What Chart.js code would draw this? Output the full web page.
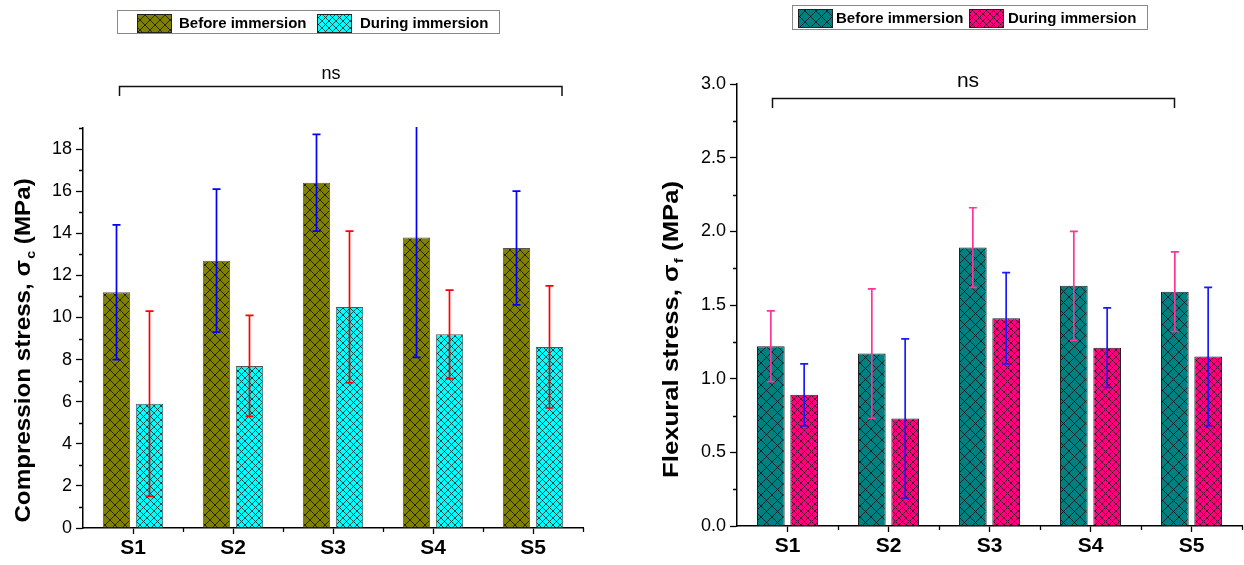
<!DOCTYPE html>
<html>
<head>
<meta charset="utf-8">
<script src="https://cdn.jsdelivr.net/npm/chart.js@4/dist/chart.umd.min.js"></script>
<style>
body{margin:0;background:#fff;}
#left{position:absolute;left:0;top:0;width:620px;height:565px;}
#right{position:absolute;left:640px;top:0;width:604px;height:565px;}
</style>
</head>
<body>
<div id="left"><canvas id="c1"></canvas></div>
<div id="right"><canvas id="c2"></canvas></div>
<script>
// data
var samples = ['S1','S2','S3','S4','S5'];
var legendLabels = ['Before immersion','During immersion'];

var compBefore   = [11.2, 12.7, 16.4, 13.8, 13.3];
var compBeforeSd = [3.2, 3.4, 2.3, 5.7, 2.7];
var compDuring   = [5.9, 7.7, 10.5, 9.2, 8.6];
var compDuringSd = [4.4, 2.4, 3.6, 2.1, 2.9];

var flexBefore   = [1.22, 1.17, 1.89, 1.63, 1.59];
var flexBeforeSd = [0.24, 0.44, 0.27, 0.37, 0.27];
var flexDuring   = [0.89, 0.73, 1.41, 1.21, 1.15];
var flexDuringSd = [0.21, 0.54, 0.31, 0.27, 0.47];

var FONT = '"Liberation Sans", Arial, sans-serif';

function hatch(ctx, color, size){
    var c = document.createElement('canvas');
    c.width = size; c.height = size;
    var g = c.getContext('2d');
    g.fillStyle = color;
    g.fillRect(0,0,size,size);
    g.strokeStyle = 'rgba(0,0,0,0.7)';
    g.lineWidth = 1;
    g.beginPath();
    g.moveTo(-1,-1); g.lineTo(size+1,size+1);
    g.moveTo(-1,size+1); g.lineTo(size+1,-1);
    g.stroke();
    return ctx.createPattern(c,'repeat');
}

// draws error bars, minor ticks, axis title, legend box and the ns bracket
var deco = {
    id: 'deco',
    afterDatasetsDraw: function(chart, args, o){
        var ctx = chart.ctx, y = chart.scales.y, a = chart.chartArea;
        ctx.save();
        ctx.beginPath();
        ctx.rect(a.left, a.top - 1, a.right - a.left, a.bottom - a.top + 2);
        ctx.clip();
        chart.data.datasets.forEach(function(ds, di){
            var meta = chart.getDatasetMeta(di);
            ctx.strokeStyle = o.errColors[di];
            ctx.lineWidth = 1.7;
            meta.data.forEach(function(bar, i){
                var v = ds.data[i], sd = o.sds[di][i];
                var yt = y.getPixelForValue(v + sd), yb = y.getPixelForValue(v - sd);
                ctx.beginPath();
                ctx.moveTo(bar.x, yt); ctx.lineTo(bar.x, yb);
                ctx.moveTo(bar.x - 4, yt); ctx.lineTo(bar.x + 4, yt);
                ctx.moveTo(bar.x - 4, yb); ctx.lineTo(bar.x + 4, yb);
                ctx.stroke();
            });
        });
        ctx.restore();
    },
    afterDraw: function(chart, args, o){
        var ctx = chart.ctx, y = chart.scales.y, a = chart.chartArea;
        ctx.save();
        ctx.strokeStyle = '#000';
        ctx.lineWidth = 1.3;
        // minor y ticks
        ctx.beginPath();
        for (var v = y.min; v <= y.max + 1e-9; v += o.minorY){
            var r = Math.round(v / o.majorY * 1000) / 1000;
            if (Math.abs(r - Math.round(r)) < 1e-6) continue;
            var py = Math.round(y.getPixelForValue(v)) + 0.5;
            ctx.moveTo(a.left - 4, py); ctx.lineTo(a.left, py);
        }
        // minor x ticks on category boundaries
        var n = chart.data.labels.length;
        for (var k = 1; k <= n; k++){
            var px = Math.round(a.left + (a.right - a.left) * k / n) + 0.5;
            ctx.moveTo(px, a.bottom); ctx.lineTo(px, a.bottom + 4);
        }
        ctx.stroke();

        // y axis title with subscript, stretched along the text
        var t = o.title;
        ctx.translate(t.x, t.y);
        ctx.rotate(-Math.PI / 2);
        ctx.scale(t.stretch, 1);
        ctx.fillStyle = '#000';
        ctx.textBaseline = 'alphabetic';
        var big = 'bold ' + t.size + 'px ' + FONT, small = 'bold ' + Math.round(t.size * 0.6) + 'px ' + FONT;
        ctx.font = big;
        var w1 = ctx.measureText(t.main).width, w3 = ctx.measureText(t.rest).width;
        ctx.font = small;
        var w2 = ctx.measureText(t.sub).width;
        var sx = -(w1 + w2 + w3) / 2;
        ctx.font = big; ctx.textAlign = 'left';
        ctx.fillText(t.main, sx, 0);
        ctx.font = small;
        ctx.fillText(t.sub, sx + w1 + 1, 5);
        ctx.font = big;
        ctx.fillText(t.rest, sx + w1 + w2 + 1, 0);
        ctx.restore();

        // legend
        var L = o.legend;
        ctx.save();
        ctx.fillStyle = '#fff';
        ctx.fillRect(L.x, L.y, L.w, L.h);
        ctx.strokeStyle = '#888';
        ctx.lineWidth = 1;
        ctx.strokeRect(L.x + 0.5, L.y + 0.5, L.w, L.h);
        ctx.font = 'bold ' + L.size + 'px ' + FONT;
        ctx.textBaseline = 'middle';
        ctx.textAlign = 'left';
        chart.data.datasets.forEach(function(ds, di){
            var it = L.items[di];
            ctx.fillStyle = ds.backgroundColor;
            ctx.fillRect(it.sx, L.sy, L.sw, L.sh);
            ctx.strokeStyle = '#222';
            ctx.strokeRect(it.sx + 0.5, L.sy + 0.5, L.sw, L.sh);
            ctx.fillStyle = '#000';
            ctx.fillText(ds.label, it.tx, L.sy + L.sh / 2 + 1);
        });

        // ns bracket
        var b = o.bracket;
        ctx.strokeStyle = '#111';
        ctx.lineWidth = 1.5;
        ctx.beginPath();
        ctx.moveTo(b.x1, b.drop); ctx.lineTo(b.x1, b.y); ctx.lineTo(b.x2, b.y); ctx.lineTo(b.x2, b.drop);
        ctx.stroke();
        ctx.font = b.size + 'px ' + FONT;
        ctx.textAlign = 'center';
        ctx.textBaseline = 'alphabetic';
        ctx.fillStyle = '#000';
        ctx.fillText('ns', b.tx, b.ty);
        ctx.restore();
    }
};

function makeChart(id, cfg){
    var ctx = document.getElementById(id).getContext('2d');
    return new Chart(ctx, {
        type: 'bar',
        data: {
            labels: samples,
            datasets: [{
                label: legendLabels[0],
                data: cfg.before,
                backgroundColor: hatch(ctx, cfg.colors[0], cfg.hatch[0]),
                borderColor: cfg.barBorder,
                borderWidth: 1
            },{
                label: legendLabels[1],
                data: cfg.during,
                backgroundColor: hatch(ctx, cfg.colors[1], cfg.hatch[1]),
                borderColor: cfg.barBorder,
                borderWidth: 1
            }]
        },
        options: {
            responsive: true,
            maintainAspectRatio: false,
            animation: false,
            devicePixelRatio: 1,
            layout: { padding: cfg.padding },
            datasets: { bar: { categoryPercentage: 0.66, barPercentage: 0.83 } },
            plugins: {
                legend: { display: false },
                tooltip: { enabled: false },
                deco: {
                    errColors: cfg.errColors,
                    sds: [cfg.beforeSd, cfg.duringSd],
                    minorY: cfg.minorY,
                    majorY: cfg.majorY,
                    title: cfg.title,
                    legend: cfg.legend,
                    bracket: cfg.bracket
                }
            },
            scales: {
                x: {
                    afterFit: function(s){ s.height = cfg.xHeight; },
                    grid: { display: true, offset: false, drawOnChartArea: false, color: '#000', tickLength: 6, tickWidth: 1.3 },
                    border: { display: true, color: '#000', width: 1.5 },
                    ticks: { color: '#000', padding: 2, font: { family: FONT, size: 21, weight: 'bold' } }
                },
                y: {
                    min: 0,
                    max: cfg.yMax,
                    afterFit: function(s){ s.width = cfg.yWidth; },
                    grid: {
                        drawOnChartArea: false,
                        tickLength: 7,
                        tickWidth: 1.3,
                        tickColor: function(c){
                            var r = c.tick.value / cfg.majorY;
                            return Math.abs(r - Math.round(r)) < 1e-6 ? '#000' : 'rgba(0,0,0,0)';
                        }
                    },
                    border: { display: true, color: '#000', width: 1.5 },
                    ticks: {
                        stepSize: cfg.minorY,
                        maxTicksLimit: 100,
                        autoSkip: false,
                        padding: 4,
                        color: '#000',
                        font: { family: FONT, size: 18 },
                        callback: function(v){
                            var r = v / cfg.majorY;
                            if (Math.abs(r - Math.round(r)) > 1e-6) return '';
                            return cfg.decimals ? v.toFixed(cfg.decimals) : String(v);
                        }
                    }
                }
            }
        },
        plugins: [deco]
    });
}

makeChart('c1', {
    before: compBefore, during: compDuring,
    beforeSd: compBeforeSd, duringSd: compDuringSd,
    colors: ['#808000', '#00ffff'],
    hatch: [10, 7],
    barBorder: '#555',
    errColors: ['#0000ff', '#ff0000'],
    yMax: 19, minorY: 1, majorY: 2, decimals: 0,
    padding: { top: 128, right: 37, left: 0, bottom: 0 },
    yWidth: 83, xHeight: 37,
    title: { x: 30, y: 351, size: 22, stretch: 1.1, main: 'Compression stress, \u03c3', sub: 'c', rest: ' (MPa)' },
    legend: { x: 117, y: 10, w: 382, h: 23, size: 15, sy: 14, sw: 34, sh: 18,
              items: [{ sx: 137, tx: 179 }, { sx: 317, tx: 360 }] },
    bracket: { x1: 119.5, x2: 562, y: 86.5, drop: 96, tx: 331, ty: 79, size: 18 }
});

makeChart('c2', {
    before: flexBefore, during: flexDuring,
    beforeSd: flexBeforeSd, duringSd: flexDuringSd,
    colors: ['#008080', '#ff0080'],
    hatch: [11, 7],
    barBorder: '#222',
    errColors: ['#ff3399', '#1a1aff'],
    yMax: 3, minorY: 0.25, majorY: 0.5, decimals: 1,
    padding: { top: 84, right: 2, left: 0, bottom: 0 },
    yWidth: 97, xHeight: 39,
    title: { x: 38, y: 330, size: 22, stretch: 1.17, main: 'Flexural stress, \u03c3', sub: 'f', rest: ' (MPa)' },
    legend: { x: 152, y: 5, w: 355, h: 24, size: 15, sy: 9, sw: 34, sh: 18,
              items: [{ sx: 158, tx: 196 }, { sx: 329, tx: 368 }] },
    bracket: { x1: 132.5, x2: 534.5, y: 98.5, drop: 108, tx: 328, ty: 87, size: 21 }
});
</script>
</body>
</html>
